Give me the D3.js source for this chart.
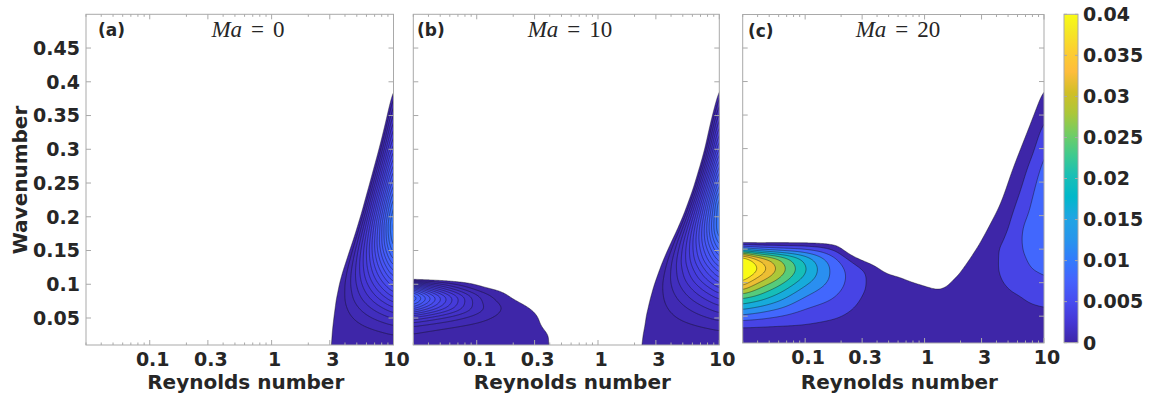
<!DOCTYPE html>
<html>
<head>
<meta charset="utf-8">
<script src="https://cdn.jsdelivr.net/npm/d3@7"></script>
<style>
  body { margin: 0; background: #fff; }
  svg text { font-family: "DejaVu Sans", sans-serif; font-weight: bold; fill: #262626; }
</style>
</head>
<body>
<div id="chart"></div>
<script>
// ── Data: growth rate (x 1e-3) on a Reynolds number x wavenumber grid ───────
// rows follow kGrid, columns follow reGrid
const reGrid = [0.03, 0.04, 0.056, 0.1, 0.18, 0.32, 0.56, 1, 1.3, 1.6, 2, 2.5, 3.2, 4, 5, 6.3, 8, 10];
const kGrid  = [0.01, 0.03, 0.05, 0.065, 0.08, 0.095, 0.11, 0.12, 0.135, 0.15, 0.165, 0.185, 0.21, 0.25, 0.3, 0.35, 0.4, 0.45, 0.5];

// Ma = 0
const growthMa0 = [
  [-1, -1, -1, -1, -1, -1, -1, -1, -1, -0.133, -0.088, -0.042, 0.008, 0.053, 0.099, 0.146, 0.195, 0.24],
  [-1, -1, -1, -1, -1, -1, -1, -1, -1, -0.451, -0.302, -0.153, 0.011, 0.159, 0.308, 0.462, 0.621, 0.77],
  [-2, -2, -2, -2, -2, -2, -2, -2, -2, -1.16, -0.793, -0.425, -0.019, 0.349, 0.717, 1.1, 1.49, 1.86],
  [-3, -3, -3, -3, -3, -3, -3, -3, -3, -1.95, -1.355, -0.758, -0.099, 0.499, 1.1, 1.71, 2.35, 2.95],
  [-4, -4, -4, -4, -4, -4, -4, -4, -4, -2.92, -2.06, -1.2, -0.249, 0.613, 1.48, 2.36, 3.29, 4.15],
  [-5, -5, -5, -5, -5, -5, -5, -5, -5, -4.11, -2.96, -1.81, -0.535, 0.618, 1.77, 2.96, 4.2, 5.35],
  [-6, -6, -6, -6, -6, -6, -6, -6, -6, -5.57, -4.1, -2.62, -0.99, 0.487, 1.96, 3.49, 5.07, 6.55],
  [-7, -7, -7, -7, -7, -7, -7, -7, -7, -6.73, -5.02, -3.31, -1.43, 0.282, 1.99, 3.76, 5.59, 7.3],
  [-9, -9, -9, -9, -9, -9, -9, -9, -9, -8.88, -6.77, -4.67, -2.34, -0.239, 1.87, 4.04, 6.3, 8.4],
  [-12, -12, -12, -12, -12, -12, -12, -12, -12, -11.4, -8.85, -6.32, -3.52, -0.992, 1.54, 4.15, 6.87, 9.4],
  [-15, -15, -15, -15, -15, -15, -15, -15, -15, -14.2, -11.2, -8.25, -4.98, -2.02, 0.948, 4.0, 7.18, 10.15],
  [-18, -18, -18, -18, -18, -18, -18, -18, -18, -17.8, -14.3, -10.9, -7.07, -3.6, -0.143, 3.43, 7.14, 10.6],
  [-22, -22, -22, -22, -22, -22, -22, -22, -22, -21.2, -17.4, -13.6, -9.38, -5.57, -1.77, 2.16, 6.24, 10.05],
  [-25, -25, -25, -25, -25, -25, -25, -25, -25, -24.3, -20.4, -16.5, -12.2, -8.22, -4.29, -0.243, 3.97, 7.9],
  [-28, -28, -28, -28, -28, -28, -28, -28, -28, -27.6, -23.6, -19.7, -15.3, -11.4, -7.39, -3.31, 0.939, 4.9],
  [-32, -32, -32, -32, -32, -32, -32, -32, -32, -31.5, -27.4, -23.3, -18.7, -14.6, -10.5, -6.3, -1.9, 2.2],
  [-35, -35, -35, -35, -35, -35, -35, -35, -35, -34.7, -30.5, -26.3, -21.7, -17.6, -13.4, -9.09, -4.62, -0.45],
  [-39, -39, -39, -39, -39, -39, -39, -39, -39, -38.3, -34.1, -29.8, -25.1, -20.8, -16.5, -12.1, -7.57, -3.3],
  [-42, -42, -42, -42, -42, -42, -42, -42, -42, -42, -37.7, -33.3, -28.5, -24.1, -19.7, -15.2, -10.6, -6.2]
];

// Ma = 10
const growthMa10 = [
  [0.3, 0.245, 0.188, 0.107, 0.046, 0.008, -0.013, -0.06, -0.06, -0.0585, -0.022, 0.0143, 0.0544, 0.091, 0.127, 0.165, 0.204, 0.24],
  [0.7, 0.571, 0.436, 0.244, 0.102, 0.0154, -0.033, -0.1, -0.13, -0.152, -0.066, 0.019, 0.114, 0.199, 0.284, 0.372, 0.464, 0.55],
  [2.8, 2.25, 1.69, 0.893, 0.327, 0.004, -0.193, -0.45, -0.45, -0.442, -0.218, 0.007, 0.255, 0.479, 0.703, 0.934, 1.175, 1.4],
  [6.3, 5.0, 3.6, 1.55, 0.442, -0.133, -0.561, -1.0, -0.9, -0.783, -0.42, -0.056, 0.345, 0.708, 1.07, 1.45, 1.84, 2.2],
  [8.5, 6.4, 4.3, 1.47, 0.107, -0.594, -1.26, -1.9, -1.6, -1.27, -0.733, -0.194, 0.4, 0.939, 1.48, 2.04, 2.61, 3.15],
  [5.0, 3.4, 1.9, 0.229, -0.383, -0.93, -1.46, -2.3, -2.15, -1.97, -1.21, -0.453, 0.383, 1.14, 1.9, 2.68, 3.49, 4.25],
  [-1.1, -1.0, -0.9, -0.8, -1.0, -1.3, -1.7, -3.0, -3.0, -2.96, -1.93, -0.908, 0.222, 1.25, 2.28, 3.34, 4.43, 5.45],
  [-2.5, -2.4, -2.3, -2.2, -2.3, -2.6, -3.0, -3.6, -3.7, -3.75, -2.54, -1.33, 0.013, 1.23, 2.44, 3.69, 4.99, 6.2],
  [-4.5, -4.4, -4.3, -4.2, -4.3, -4.6, -5.0, -5.5, -5.4, -5.3, -3.75, -2.2, -0.494, 1.05, 2.62, 4.21, 5.87, 7.4],
  [-6, -6, -6, -6, -6, -6.3, -6.7, -7.2, -7.25, -7.31, -5.38, -3.46, -1.33, 0.596, 2.52, 4.51, 6.57, 8.5],
  [-7.5, -7.5, -7.5, -7.5, -7.6, -7.9, -8.4, -9.0, -9.45, -9.89, -7.53, -5.12, -2.56, -0.195, 2.17, 4.6, 7.16, 9.5],
  [-9.5, -9.5, -9.5, -9.5, -9.6, -10, -10.6, -11.4, -12.8, -14.1, -11.1, -8.12, -4.83, -1.85, 1.14, 4.22, 7.42, 10.4],
  [-12, -12, -12, -12, -12.2, -12.7, -13.5, -14.5, -16.9, -19.2, -15.6, -12, -8.02, -4.38, -0.78, 2.93, 6.8, 10.4],
  [-15, -15, -15, -15, -15.3, -16, -17, -18.5, -21.8, -25, -20.9, -16.8, -12.3, -8.25, -4.17, 0.042, 4.42, 8.5],
  [-18, -18, -18, -18, -18.5, -19.5, -21, -23, -25.9, -28.7, -24.6, -20.4, -15.9, -11.8, -7.59, -3.37, 1.06, 5.2],
  [-21, -21, -21, -21, -21.5, -23, -25, -27, -28.4, -29.8, -25.9, -22, -17.7, -13.8, -9.85, -5.81, -1.61, 2.3],
  [-24, -24, -24, -24, -24.5, -26, -28, -30, -32.4, -34.7, -30.5, -26.3, -21.7, -17.6, -13.4, -9.09, -4.62, -0.45],
  [-27, -27, -27, -27, -27.5, -29, -31, -34, -36.2, -38.3, -34.1, -29.8, -25.1, -20.8, -16.5, -12.1, -7.57, -3.3],
  [-30, -30, -30, -30, -30.5, -32, -35, -38, -40, -42, -37.7, -33.3, -28.5, -24.1, -19.7, -15.2, -10.6, -6.2]
];

// Ma = 20
const growthMa20 = [
  [1.5, 1.5, 1.5, 1.5, 1.2, 0.9, 0.75, 0.8, 0.78, 0.8, 0.82, 0.85, 0.9, 0.95, 1.0, 1.1, 1.15, 1.2],
  [3.2, 3.1, 3.0, 3.0, 2.4, 1.5, 1.1, 1.05, 1.0, 1.05, 1.15, 1.3, 1.5, 1.6, 1.7, 1.8, 1.9, 2.0],
  [11, 10, 8.5, 6.0, 4.4, 2.3, 1.4, 1.0, 1.0, 1.05, 1.35, 1.7, 2.1, 2.4, 2.6, 2.8, 3.0, 3.2],
  [18.5, 16.6, 14, 9.0, 6.3, 3.0, 1.6, 0.85, 0.8, 0.9, 1.4, 1.85, 2.4, 2.8, 3.1, 3.4, 3.8, 4.1],
  [26, 23.5, 19.5, 12.3, 8.0, 3.6, 1.6, 0.54, 0.35, 0.6, 1.3, 1.9, 2.6, 3.2, 3.6, 4.0, 4.8, 5.5],
  [35.5, 30, 25, 16, 9.6, 4.05, 1.23, 0, -0.18, 0.07, 0.9, 1.85, 2.7, 3.5, 4.1, 4.9, 6.0, 7.0],
  [44, 37, 30.5, 19.5, 10.4, 4.1, 0.08, -0.8, -0.72, -0.45, 0.23, 1.65, 2.65, 3.7, 4.6, 5.8, 7.2, 8.0],
  [48, 40, 32.5, 20.5, 10.3, 3.3, -1.8, -1.4, -1.08, -0.8, -0.23, 1.1, 2.6, 3.8, 4.9, 6.4, 8.0, 8.6],
  [44, 36, 29.5, 18.5, 8.4, -1.4, -4.8, -2.3, -1.62, -1.34, -0.9, 0.28, 2.22, 3.75, 5.2, 7.1, 8.7, 9.2],
  [15, 12, 10, 7.8, 2.6, -8.5, -7.8, -3.2, -2.16, -1.88, -1.58, -0.55, 1.32, 3.58, 5.3, 7.6, 9.1, 9.6],
  [-6, -5.5, -4.6, -4.3, -4.5, -15.5, -10.8, -4.1, -2.7, -2.42, -2.25, -1.38, 0.42, 2.6, 4.85, 7.7, 9.3, 9.9],
  [-14, -13, -12, -11, -12, -25, -14.8, -5.3, -3.4, -3.14, -3.15, -2.48, -0.78, 1.3, 3.7, 7.3, 9.2, 10.1],
  [-23, -22, -21, -19, -20, -37, -19.8, -6.8, -4.3, -4.04, -4.3, -3.85, -2.28, -0.33, 2.28, 5.65, 8.6, 10.2],
  [-35, -34, -33, -30, -30, -50, -27.8, -9.2, -5.8, -5.48, -6.1, -6.05, -4.68, -2.93, -0.05, 3.05, 6.96, 9.8],
  [-48, -47, -46, -43, -42, -62, -37.8, -12.2, -7.6, -7.3, -8.3, -8.8, -7.68, -6.2, -2.9, -0.2, 3.26, 7.3],
  [-61, -60, -59, -56, -54, -72, -47.8, -15.2, -9.4, -9.1, -10.6, -11.55, -10.7, -9.4, -5.75, -3.45, -0.44, 3.15],
  [-74, -73, -72, -69, -66, -80, -57.8, -18.2, -11.2, -10.9, -12.8, -14.3, -13.7, -12.7, -8.6, -6.7, -4.1, -1.0],
  [-87, -86, -85, -82, -78, -86, -67.8, -21.2, -13, -12.7, -15.1, -17, -16.7, -15.9, -11.45, -9.95, -7.8, -5.1],
  [-100, -99, -98, -95, -90, -92, -77.8, -24.2, -14.8, -14.5, -17.3, -19.8, -19.7, -19.2, -14.3, -13.2, -11.5, -9.3]
];

const maValues = ['0', '10', '20'];
const panelTags = ['(a)', '(b)', '(c)'];
const levelsMa0  = d3.range(0, 10.5, 0.6);
const levelsMa10 = d3.range(0, 10.5, 0.6);
const levelsMa20 = d3.range(0, 41, 4);

const xTicks = [0.1, 0.3, 1, 3, 10];
const yTicks = [0.05, 0.1, 0.15, 0.2, 0.25, 0.3, 0.35, 0.4, 0.45];
const cbTicks = ['0', '0.005', '0.01', '0.015', '0.02', '0.025', '0.03', '0.035', '0.04'];

// parula colormap anchors (rows 1,5,...,61,64 of the 64-entry map)
const parulaColors = ['#3e26a8', '#4537d5', '#484df0', '#4563fd', '#327cfc', '#2796eb', '#20a5e3', '#01b8ca',
  '#19bfb6', '#3fca8e', '#72cd64', '#abc739', '#d1bf27', '#febd3c', '#fccf30', '#f5e924', '#f9fb15'];

// ── Layout ──────────────────────────────────────────────────────────────────
const W = 1149, H = 395;
const layout = [
  { x0: 86,    x1: 393.5, y0: 14.3, y1: 345, tagX: 98,  titleX: 248 },
  { x0: 413.3, x1: 719.3, y0: 14.3, y1: 345, tagX: 417, titleX: 570 },
  { x0: 742.7, x1: 1044,  y0: 14.5, y1: 343, tagX: 748, titleX: 898 }
];
const fields = [growthMa0, growthMa10, growthMa20];
const levels = [levelsMa0, levelsMa10, levelsMa20];
const cb = { x0: 1064, x1: 1078, y0: 14.3, y1: 342.7 };
const axisColor = '#a9a9a9';

const parulaT = parulaColors.map((c, i) => Math.min(i * 4, 63) / 63);
const parula = d3.scaleLinear().domain(parulaT).range(parulaColors).clamp(true);

const svg = d3.select('#chart').append('svg')
  .attr('width', W).attr('height', H)
  .style('display', 'block');

// ── Monotone (Steffen) cubic helpers, used to resample the grid smoothly ────
function steffenSlopes(xs, ys) {
  const n = xs.length, m = new Array(n);
  const s = d3.range(n - 1).map(i => (ys[i + 1] - ys[i]) / (xs[i + 1] - xs[i]));
  m[0] = s[0];
  m[n - 1] = s[n - 2];
  for (let i = 1; i < n - 1; i++) {
    const h0 = xs[i] - xs[i - 1], h1 = xs[i + 1] - xs[i];
    const p = (s[i - 1] * h1 + s[i] * h0) / (h0 + h1);
    m[i] = (Math.sign(s[i - 1]) + Math.sign(s[i])) *
      Math.min(Math.abs(s[i - 1]), Math.abs(s[i]), 0.5 * Math.abs(p)) || 0;
  }
  return m;
}
function hermite(xs, ys, m, x) {
  const n = xs.length;
  const xc = Math.max(xs[0], Math.min(xs[n - 1], x));
  const i = Math.max(0, Math.min(n - 2, d3.bisectRight(xs, xc) - 1));
  const h = xs[i + 1] - xs[i], t = (xc - xs[i]) / h;
  const t2 = t * t, t3 = t2 * t;
  return (2 * t3 - 3 * t2 + 1) * ys[i] + (t3 - 2 * t2 + t) * h * m[i] +
    (-2 * t3 + 3 * t2) * ys[i + 1] + (t3 - t2) * h * m[i + 1];
}
// separable box blur (edges clamped), a few passes ~ gaussian
function boxBlur(values, nx, ny, r, passes) {
  const tmp = new Float64Array(values.length);
  for (let p = 0; p < passes; p++) {
    for (let yy = 0; yy < ny; yy++) {
      for (let xx = 0; xx < nx; xx++) {
        let s = 0;
        for (let d = -r; d <= r; d++) s += values[yy * nx + Math.min(nx - 1, Math.max(0, xx + d))];
        tmp[yy * nx + xx] = s / (2 * r + 1);
      }
    }
    for (let xx = 0; xx < nx; xx++) {
      for (let yy = 0; yy < ny; yy++) {
        let s = 0;
        for (let d = -r; d <= r; d++) s += tmp[Math.min(ny - 1, Math.max(0, yy + d)) * nx + xx];
        values[yy * nx + xx] = s / (2 * r + 1);
      }
    }
  }
}

const uGrid = reGrid.map(Math.log10);

layout.forEach((p, pi) => {
  const w = p.x1 - p.x0, h = p.y1 - p.y0;
  const x = d3.scaleLog().domain([0.03, 10]).range([0, w]);
  const y = d3.scaleLinear().domain([0.01, 0.5]).range([h, 0]);
  const g = svg.append('g').attr('transform', `translate(${p.x0},${p.y0})`);

  // ── fine grid (1px) for contouring ──
  const grid = fields[pi];
  const cols = reGrid.map((_, j) => grid.map(row => row[j]));
  const colSlopes = cols.map(c => steffenSlopes(kGrid, c));
  const pad = 12;
  const nx = Math.ceil(w) + 2 * pad, ny = Math.ceil(h) + 2 * pad;
  const uAt = d3.range(nx).map(c => Math.log10(x.invert(c + 0.5 - pad)));
  const values = new Float64Array(nx * ny);
  for (let r = 0; r < ny; r++) {
    const k = y.invert(r + 0.5 - pad);
    const rowVals = cols.map((c, j) => hermite(kGrid, c, colSlopes[j], k));
    const rowSlopes = steffenSlopes(uGrid, rowVals);
    for (let c = 0; c < nx; c++) {
      values[r * nx + c] = hermite(uGrid, rowVals, rowSlopes, uAt[c]);
    }
  }
  boxBlur(values, nx, ny, 3, 2);
  for (let c = 0; c < nx; c++) { values[c] = -1e6; values[(ny - 1) * nx + c] = -1e6; }
  for (let r = 0; r < ny; r++) { values[r * nx] = -1e6; values[r * nx + nx - 1] = -1e6; }

  const contours = d3.contours().size([nx, ny]).thresholds(levels[pi])(values);
  const path = d3.geoPath(d3.geoIdentity().translate([-pad, -pad]));

  const clipId = 'clip' + pi;
  g.append('clipPath').attr('id', clipId)
    .append('rect').attr('width', w).attr('height', h);

  g.append('g').attr('clip-path', `url(#${clipId})`)
    .selectAll('path')
    .data(contours.filter(d => d.coordinates.length))
    .join('path')
    .attr('d', path)
    .attr('fill', d => parula(d.value / 40))
    .attr('stroke', '#111')
    .attr('stroke-opacity', 0.85)
    .attr('stroke-width', 0.5);

  // ── axes box + ticks ──
  g.append('rect').attr('width', w).attr('height', h)
    .attr('fill', 'none').attr('stroke', axisColor).attr('stroke-width', 1);

  const minor = x.ticks().filter(t => !xTicks.some(m => Math.abs(m - t) < 1e-9));
  const tickG = g.append('g').attr('stroke', axisColor).attr('stroke-width', 1);
  xTicks.forEach(t => {
    tickG.append('line').attr('x1', x(t)).attr('x2', x(t)).attr('y1', h).attr('y2', h - 5);
    tickG.append('line').attr('x1', x(t)).attr('x2', x(t)).attr('y1', 0).attr('y2', 5);
  });
  minor.forEach(t => {
    tickG.append('line').attr('x1', x(t)).attr('x2', x(t)).attr('y1', h).attr('y2', h - 2.5);
    tickG.append('line').attr('x1', x(t)).attr('x2', x(t)).attr('y1', 0).attr('y2', 2.5);
  });
  yTicks.forEach(t => {
    tickG.append('line').attr('x1', 0).attr('x2', 5).attr('y1', y(t)).attr('y2', y(t));
    tickG.append('line').attr('x1', w).attr('x2', w - 5).attr('y1', y(t)).attr('y2', y(t));
  });

  // x tick labels
  g.append('g').selectAll('text').data(xTicks).join('text')
    .attr('x', d => x(d) + 3)
    .attr('y', h + 21)
    .attr('text-anchor', 'middle')
    .style('font-size', '19px')
    .text(d => String(d));

  if (pi === 0) {
    g.append('g').selectAll('text').data(yTicks).join('text')
      .attr('x', -6)
      .attr('y', d => y(d))
      .attr('dy', '0.36em')
      .attr('text-anchor', 'end')
      .style('font-size', '19px')
      .text(d => String(d));
  }

  // x axis label
  svg.append('text')
    .attr('x', (p.x0 + p.x1) / 2 + 6)
    .attr('y', 389)
    .attr('text-anchor', 'middle')
    .style('font-size', '20px')
    .text('Reynolds number');

  // panel tag
  svg.append('text')
    .attr('x', p.tagX).attr('y', p.y0 + 22)
    .style('font-size', '17px')
    .text(panelTags[pi]);

  // title  Ma = n
  const title = svg.append('text')
    .attr('x', p.titleX).attr('y', 37)
    .attr('text-anchor', 'middle')
    .style('font-family', '"Liberation Serif", serif')
    .style('font-weight', 'normal')
    .style('font-size', '23px');
  title.append('tspan').style('font-style', 'italic').text('Ma');
  title.append('tspan').attr('dx', 9).text('=');
  title.append('tspan').attr('dx', 9).text(maValues[pi]);
});

// y axis label
svg.append('text')
  .attr('transform', 'translate(27,180) rotate(-90)')
  .attr('text-anchor', 'middle')
  .style('font-size', '20px')
  .text('Wavenumber');

// ── Colorbar ──
const defs = svg.append('defs');
const grad = defs.append('linearGradient').attr('id', 'parula-grad')
  .attr('x1', 0).attr('y1', 1).attr('x2', 0).attr('y2', 0);
parulaColors.forEach((c, i) => {
  grad.append('stop').attr('offset', parulaT[i]).attr('stop-color', c);
});
svg.append('rect')
  .attr('x', cb.x0).attr('y', cb.y0)
  .attr('width', cb.x1 - cb.x0).attr('height', cb.y1 - cb.y0)
  .attr('fill', 'url(#parula-grad)')
  .attr('stroke', axisColor).attr('stroke-width', 1);

const cbScale = d3.scaleLinear().domain([0, 0.04]).range([cb.y1, cb.y0]);
const cbG = svg.append('g');
cbTicks.forEach(t => {
  const yy = cbScale(+t);
  cbG.append('line').attr('x1', cb.x1).attr('x2', cb.x1 - 3).attr('y1', yy).attr('y2', yy)
    .attr('stroke', axisColor);
  cbG.append('line').attr('x1', cb.x0).attr('x2', cb.x0 + 3).attr('y1', yy).attr('y2', yy)
    .attr('stroke', axisColor);
  cbG.append('text')
    .attr('x', cb.x1 + 5).attr('y', yy).attr('dy', '0.36em')
    .style('font-size', '19px')
    .text(t);
});
</script>
</body>
</html>
